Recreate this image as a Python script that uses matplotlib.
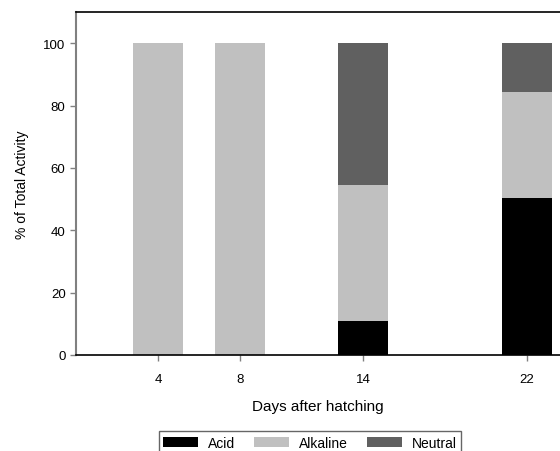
import matplotlib
matplotlib.use("Agg")
import matplotlib.pyplot as plt
import numpy as np

plt.rcParams['font.family'] = ['Liberation Sans', 'DejaVu Sans']

# Datos
days = [4, 8, 14, 22]
acid = [0, 0, 10.9, 50.5]
alkaline = [100, 100, 43.6, 34.0]
neutral = [0, 0, 45.5, 15.5]

colors = ["#000000", "#c0c0c0", "#606060"]

fig = plt.figure(figsize=(5.6, 4.52), dpi=100)
ax = fig.add_axes([76/560, 96/452, 484/560, 343/452])

a = np.array(acid)
b = np.array(alkaline)
ax.bar(days, acid, width=2.45, color=colors[0], label="Acid")
ax.bar(days, alkaline, width=2.45, bottom=a, color=colors[1], label="Alkaline")
ax.bar(days, neutral, width=2.45, bottom=a + b, color=colors[2], label="Neutral")

ax.set_xlim(0, 23.6)
ax.set_ylim(0, 110)
ax.set_xticks(days)
ax.set_yticks(range(0, 101, 20))
ax.tick_params(direction="out", length=4, labelsize=9.5, width=1)
ax.tick_params(axis="y", colors="#808080", labelcolor="black")
ax.tick_params(axis="x", colors="#808080", labelcolor="black", pad=9)
ax.spines["right"].set_visible(False)
ax.spines["left"].set_color("#808080")
ax.spines["left"].set_linewidth(1.5)
ax.spines["bottom"].set_linewidth(1.2)
ax.spines["top"].set_linewidth(1.2)

ax.set_xlabel("Days after hatching", fontsize=11, labelpad=10)
ax.set_ylabel("% of Total Activity", fontsize=10, labelpad=10)

leg = fig.legend(loc="upper center", bbox_to_anchor=(310/560, 1 - 432/452), ncol=3,
                 frameon=True, fancybox=False, edgecolor="#404040", fontsize=10,
                 handlelength=2.5, handleheight=0.72, handletextpad=0.7,
                 columnspacing=1.4, borderpad=0.35, borderaxespad=0)
leg.get_frame().set_linewidth(1.0)

fig.savefig("out.png", dpi=100)
